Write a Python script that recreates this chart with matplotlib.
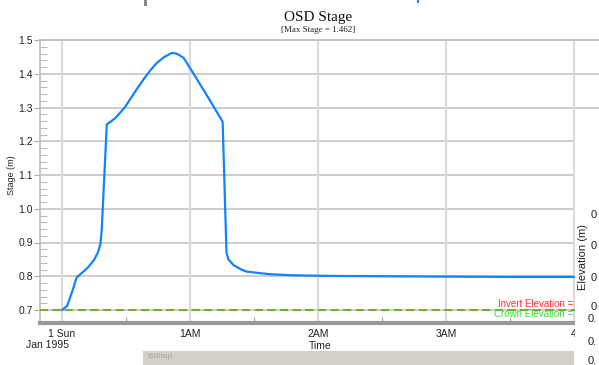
import matplotlib.pyplot as plt
from matplotlib.patches import Rectangle

# hours after 1 Jan 1995 00:00
hours = [0.00, 0.04, 0.08, 0.115, 0.15, 0.20, 0.25, 0.28, 0.30, 0.31, 0.35,
         0.38, 0.42, 0.49, 0.58, 0.64, 0.69, 0.74, 0.80, 0.86, 0.90, 0.95,
         1.02, 1.13, 1.255, 1.285, 1.30, 1.34, 1.40, 1.44, 1.55, 1.63, 1.78,
         2.09, 2.5, 3.0, 3.5, 4.2]
stage = [0.700, 0.712, 0.755, 0.797, 0.808, 0.825, 0.848, 0.870, 0.895, 0.935,
         1.250, 1.258, 1.270, 1.300, 1.352, 1.385, 1.410, 1.432, 1.450, 1.462,
         1.459, 1.447, 1.405, 1.337, 1.258, 0.870, 0.850, 0.833, 0.820, 0.814,
         0.809, 0.806, 0.803, 0.801, 0.800, 0.799, 0.798, 0.798]

invert_elev = 0.70
crown_elev = 0.70
max_stage = 1.462

x_ticks = [0, 1, 2, 3, 4]
x_labels = ['1 Sun', '1AM', '2AM', '3AM', '4']
y_ticks = [0.7, 0.8, 0.9, 1.0, 1.1, 1.2, 1.3, 1.4, 1.5]

W, H = 599, 365
plt.rcParams['font.family'] = ['Liberation Sans', 'DejaVu Sans']

def px(x, y):
    return x / W, 1 - y / H

fig = plt.figure(figsize=(W / 100, H / 100), dpi=100, facecolor='white')
ax = fig.add_axes([40 / W, 1 - 323 / H, 1 - 40 / W, (323 - 40) / H])

grid_h = '#c8c8c8'
grid_v = '#dadada'
for y in y_ticks:
    ax.axhline(y, color=grid_h, lw=1.3, zorder=1)
for x in x_ticks:
    ax.axvline(x, color=grid_v, lw=1.6, zorder=1)

ax.plot(hours, stage, color='#1282ff', lw=1.6, zorder=4, solid_capstyle='round')
ax.axhline(invert_elev, color='#d04040', lw=1.4, dashes=(4, 2.5), zorder=3)
ax.axhline(crown_elev, color='#6cb52a', lw=1.4, dashes=(4, 2.5), zorder=3)

ax.set_xlim((40 - 62) / 128, (599 - 62) / 128)
ax.set_ylim(0.7 - 13 / 337.5, 1.5)

ax.set_yticks(y_ticks)
ax.set_yticklabels(['%.1f' % v for v in y_ticks], fontsize=7.5, color='#222222')
ax.set_yticks([0.7 + 0.02 * i for i in range(41) if i % 5], minor=True)
ax.tick_params(axis='y', which='major', direction='out', length=4, width=0.8,
               color='#aaaaaa', pad=1)
ax.tick_params(axis='y', which='minor', direction='in', length=5, width=0.8,
               color='#bbbbbb')

ax.set_xticks(x_ticks)
ax.set_xticklabels(x_labels, fontsize=7.5, color='#222222')
ax.set_xticks([0.5, 1.5, 2.5, 3.5], minor=True)
ax.tick_params(axis='x', which='major', length=0, pad=4)
ax.tick_params(axis='x', which='minor', direction='in', length=4, width=0.8,
               color='#999999')

for s in ['left', 'top']:
    ax.spines[s].set_color('#c0c0c0')
    ax.spines[s].set_linewidth(1.3)
ax.spines['right'].set_visible(False)
ax.spines['bottom'].set_color('#999999')
ax.spines['bottom'].set_linewidth(3)

fig.text(*px(318, 17), 'OSD Stage', family='Liberation Serif', fontsize=11,
         ha='center', va='center', color='#111111')
fig.text(*px(318, 30), '[Max Stage = %.3f]' % max_stage, family='Liberation Serif',
         fontsize=6.5, ha='center', va='center', color='#222222')
fig.text(*px(12, 175), 'Stage (m)', fontsize=6.5, rotation=90, ha='center',
         va='center', color='#222222')
fig.text(*px(48, 345), 'Jan 1995', fontsize=7.5, ha='center', va='center', color='#222222')
fig.text(*px(320, 346), 'Time', fontsize=7.5, ha='center', va='center', color='#222222')

fig.text(*px(573, 304), 'Invert Elevation =', fontsize=7, ha='right', va='center',
         color='#ff3030')
fig.text(*px(573, 314), 'Crown Elevation =', fontsize=7, ha='right', va='center',
         color='#33dd33')

# overlapping window on the right
fig.add_artist(Rectangle(px(575, 365), 24 / W, (365 - 133) / H, transform=fig.transFigure,
                         facecolor='white', edgecolor='none', zorder=5))
fig.text(*px(583, 257), 'Elevation (m)', fontsize=8, rotation=90, ha='center',
         va='center', color='#222222', zorder=6)
for y in [215, 246, 278, 307]:
    fig.text(*px(591, y), '0', fontsize=8, ha='left', va='center', color='#222222', zorder=6)
for y in [319, 342, 361]:
    fig.text(*px(588, y), '0.', fontsize=8, ha='left', va='center', color='#222222', zorder=6)

# bits of other windows
fig.add_artist(Rectangle(px(143, 365), (574 - 143) / W, 14 / H, transform=fig.transFigure,
                         facecolor='#d4d0c8', edgecolor='none', zorder=5))
fig.text(*px(148, 356), 'tsdhup', fontsize=6, ha='left', va='center', color='#8a8a80',
         alpha=0.6, zorder=6)
fig.add_artist(Rectangle(px(144, 6), 3 / W, 6 / H, transform=fig.transFigure,
                         facecolor='#888888', edgecolor='none', zorder=5))
fig.add_artist(Rectangle(px(417, 3), 2 / W, 3 / H, transform=fig.transFigure,
                         facecolor='#1282ff', edgecolor='none', zorder=5))

fig.savefig('out.png', dpi=100)
